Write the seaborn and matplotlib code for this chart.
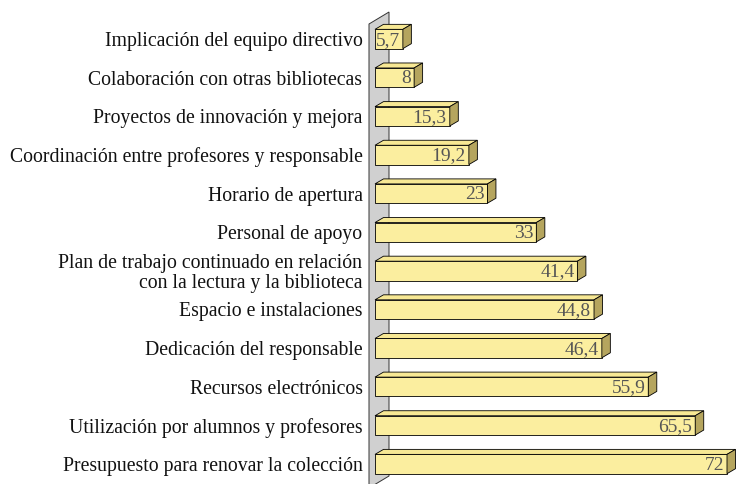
import matplotlib
matplotlib.use("Agg")
import matplotlib.pyplot as plt
from matplotlib.patches import Polygon
import seaborn as sns
import pandas as pd

categories = [
    "Implicación del equipo directivo",
    "Colaboración con otras bibliotecas",
    "Proyectos de innovación y mejora",
    "Coordinación entre profesores y responsable",
    "Horario de apertura",
    "Personal de apoyo",
    "Plan de trabajo continuado en relación\ncon la lectura y la biblioteca",
    "Espacio e instalaciones",
    "Dedicación del responsable",
    "Recursos electrónicos",
    "Utilización por alumnos y profesores",
    "Presupuesto para renovar la colección",
]
values = [5.7, 8, 15.3, 19.2, 23, 33, 41.4, 44.8, 46.4, 55.9, 65.5, 72]
value_labels = ["5,7", "8", "15,3", "19,2", "23", "33", "41,4", "44,8", "46,4", "55,9", "65,5", "72"]

df = pd.DataFrame({"categoria": categories, "valor": values})

sns.set_theme(style="white")
plt.rcParams["font.family"] = ["Liberation Serif", "DejaVu Serif"]

W, H = 737, 484
fig = plt.figure(figsize=(W / 100, H / 100), dpi=100)
ax = fig.add_axes([375 / W, 0, 1 - 375 / W, 1])

front_col = "#FBEE9F"
top_col = "#F7E894"
side_col = "#B5A55E"
wall_col = "#D0D0D0"
bar_h = 0.5
edge_lw = 0.6

sns.barplot(data=df, x="valor", y="categoria", orient="h", width=bar_h,
            color=front_col, edgecolor="black", linewidth=edge_lw, saturation=1,
            ax=ax, zorder=3)

px_per_unit = 352 / 72
row_px = 38.64
ax.set_xlim(0, 362 / px_per_unit)
ax.set_ylim((H - 39) / row_px, -39 / row_px)

# oblique depth of the bars (in data units)
ddx = 8.5 / px_per_unit
ddy = -5 / row_px

# side wall behind the category axis
wx0 = (369 - 375) / px_per_unit
wx1 = (389 - 375) / px_per_unit
wall = Polygon([(wx0, (24 - 39) / row_px), (wx1, (12 - 39) / row_px),
                (wx1, (476 - 39) / row_px), (wx0, (488 - 39) / row_px)],
               closed=True, facecolor=wall_col, edgecolor="#333333",
               linewidth=0.7, clip_on=False, zorder=2)
ax.add_patch(wall)

for i, v in enumerate(values):
    top = i - bar_h / 2
    bot = i + bar_h / 2
    top_face = Polygon([(0, top), (v, top), (v + ddx, top + ddy), (ddx, top + ddy)],
                       closed=True, facecolor=top_col, edgecolor="black",
                       linewidth=edge_lw, clip_on=False, zorder=4)
    side_face = Polygon([(v, top), (v + ddx, top + ddy), (v + ddx, bot + ddy), (v, bot)],
                        closed=True, facecolor=side_col, edgecolor="black",
                        linewidth=edge_lw, clip_on=False, zorder=4)
    ax.add_patch(top_face)
    ax.add_patch(side_face)
    ax.text(v - 3 / px_per_unit, i + 0.03, value_labels[i], ha="right", va="center",
            fontsize=14, color="#555555", zorder=5)

ax.set_xlabel("")
ax.set_ylabel("")
ax.set_xticks([])
ax.tick_params(axis="y", length=0, pad=9, labelsize=14.2, labelcolor="#111111")
for lab in ax.get_yticklabels():
    lab.set_horizontalalignment("right")
    lab.set_multialignment("right")
    lab.set_linespacing(1.05)
for s in ax.spines.values():
    s.set_visible(False)
ax.patch.set_alpha(0)

fig.savefig("out.png", dpi=100, facecolor="white")
